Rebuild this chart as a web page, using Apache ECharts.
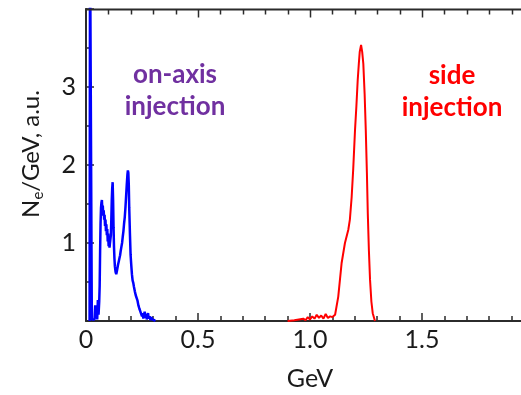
<!DOCTYPE html>
<html>
<head>
<meta charset="utf-8">
<script src="https://cdn.jsdelivr.net/npm/echarts@6/dist/echarts.min.js"></script>
<style>html,body{margin:0;padding:0;background:#fff;}#c{width:521px;height:395px;}</style>
</head>
<body>
<div id="c"></div>
<script>
// On-axis injection spectrum (GeV, Ne/GeV a.u.)
const blueX = [0.016,0.018,0.024,0.026,0.03,0.034,0.038,0.041,0.044,0.047,0.05,0.053,0.056,0.059,0.061,0.063,0.065,0.067,0.069,0.071,0.073,0.075,0.077,0.079,0.081,0.083,0.085,0.087,0.089,0.091,0.093,0.095,0.097,0.099,0.101,0.103,0.105,0.107,0.109,0.111,0.113,0.115,0.117,0.119,0.121,0.123,0.125,0.127,0.129,0.132,0.135,0.138,0.14,0.143,0.146,0.149,0.152,0.155,0.158,0.161,0.164,0.167,0.17,0.173,0.176,0.179,0.182,0.185,0.187,0.189,0.191,0.193,0.196,0.199,0.202,0.205,0.208,0.211,0.214,0.218,0.222,0.226,0.23,0.234,0.238,0.241,0.244,0.247,0.25,0.253,0.256,0.259,0.262,0.265,0.268,0.271,0.274,0.277,0.28,0.284,0.288,0.292,0.296,0.3,0.305,0.31];
const blueY = [0,5,5,0.02,0.01,0.04,0.02,0.2,0.05,0.1,0.02,0.27,0.08,0.25,0.45,0.9,1.25,1.45,1.52,1.55,1.42,1.48,1.35,1.42,1.3,1.36,1.22,1.3,1.15,1.24,1.1,1.18,1.02,1.12,0.96,1.05,0.94,1.0,0.98,1.1,1.3,1.55,1.7,1.78,1.55,1.2,0.95,0.8,0.7,0.63,0.6,0.64,0.66,0.72,0.76,0.8,0.84,0.9,0.95,1.0,1.08,1.15,1.25,1.33,1.45,1.6,1.75,1.88,1.93,1.9,1.75,1.45,1.13,0.85,0.72,0.6,0.52,0.49,0.44,0.38,0.33,0.31,0.26,0.2,0.16,0.14,0.11,0.13,0.06,0.1,0.03,0.08,0.12,0.04,0.09,0.02,0.07,0.1,0.03,0.06,0.01,0.05,0.02,0.04,0.01,0];
// Side injection spectrum
const redX = [0.9,0.93,0.95,0.97,0.98,0.99,1.0,1.01,1.02,1.03,1.04,1.05,1.06,1.07,1.08,1.09,1.1,1.112,1.126,1.141,1.156,1.171,1.178,1.186,1.193,1.201,1.207,1.213,1.218,1.222,1.228,1.233,1.238,1.244,1.249,1.254,1.258,1.263,1.268,1.274,1.28,1.29];
const redY = [0,0.01,0.02,0.03,0.01,0.05,0.02,0.06,0.03,0.08,0.04,0.07,0.03,0.09,0.04,0.06,0.05,0.08,0.31,0.74,1.0,1.17,1.3,1.59,1.95,2.45,2.75,3.09,3.3,3.45,3.54,3.45,3.3,2.9,2.45,1.9,1.38,0.9,0.53,0.25,0.1,0];
const xTicks = [0, 0.5, 1.0, 1.5];
const yTicks = [1, 2, 3];
const X_MAX = 2, Y_MAX = 4;

const FONT = 'Lato';
const AX = '#2b2b2b';
const chart = echarts.init(document.getElementById('c'), null, {renderer: 'canvas'});
const zip = (xs, ys) => xs.map((x, i) => [x, ys[i]]);
const textGraphics = [
  {type: 'text', x: 31, y: 154, rotation: Math.PI / 2, z: 100,
   style: {text: 'N{s|e}/GeV, a.u.', fontFamily: FONT, fontSize: 24, fill: '#1a1a1a',
           align: 'center', verticalAlign: 'middle', lineHeight: 30,
           rich: {s: {fontFamily: FONT, fontSize: 15, fill: '#1a1a1a', verticalAlign: 'bottom'}}}},
  {type: 'text', x: 175, y: 91, z: 100,
   style: {text: 'on-axis\ninjection', fontFamily: FONT, fontSize: 26, fontWeight: 'bold', fill: '#7030A0',
           align: 'center', verticalAlign: 'middle', lineHeight: 32}},
  {type: 'text', x: 452, y: 92, z: 100,
   style: {text: 'side\ninjection', fontFamily: FONT, fontSize: 26, fontWeight: 'bold', fill: '#FF0000',
           align: 'center', verticalAlign: 'middle', lineHeight: 32}}
];
chart.setOption({
  animation: false,
  backgroundColor: '#fff',
  grid: {left: 86, top: 9, right: -13, bottom: 74, containLabel: false, outerBoundsMode: 'none'},
  xAxis: {
    type: 'value', min: 0, max: X_MAX, interval: 0.5, position: 'bottom',
    axisLine: {show: true, onZero: false, lineStyle: {color: AX, width: 2}},
    axisTick: {show: true, inside: true, length: 8, lineStyle: {color: AX, width: 1.5}},
    minorTick: {show: true, splitNumber: 5, length: 5, lineStyle: {color: AX, width: 1.5}},
    splitLine: {show: false},
    axisLabel: {
      margin: 6, fontFamily: FONT, fontSize: 25, color: '#1a1a1a',
      formatter: v => { const t = xTicks.find(k => Math.abs(k - v) < 1e-9); return t === undefined ? '' : (t === 0 ? '0' : t.toFixed(1)); }
    },
    name: 'GeV', nameLocation: 'middle', nameGap: 45,
    nameTextStyle: {fontFamily: FONT, fontSize: 25, color: '#1a1a1a'}
  },
  yAxis: {
    type: 'value', min: 0, max: Y_MAX, interval: 1,
    axisLine: {show: true, onZero: false, lineStyle: {color: AX, width: 2}},
    axisTick: {show: true, inside: true, length: 8, lineStyle: {color: AX, width: 1.5}},
    minorTick: {show: true, splitNumber: 2, length: 5, lineStyle: {color: AX, width: 1.5}},
    splitLine: {show: false},
    axisLabel: {
      margin: 10, fontFamily: FONT, fontSize: 25, color: '#1a1a1a',
      formatter: v => yTicks.indexOf(v) >= 0 ? String(v) : ''
    }
  },
  graphic: textGraphics,
  series: [
    {type: 'line', data: zip(blueX, blueY), showSymbol: false, clip: true,
     lineStyle: {color: '#0000FF', width: 2.5}, itemStyle: {color: '#0000FF'}},
    {type: 'line', data: zip(redX, redY), showSymbol: false, clip: true,
     lineStyle: {color: '#FF0000', width: 2}, itemStyle: {color: '#FF0000'}}
  ]
});
// Top frame with inward ticks, positioned through the chart's own scales
const topY = Math.round(chart.convertToPixel({yAxisIndex: 0}, Y_MAX)) + 0.5;
const x0 = chart.convertToPixel({xAxisIndex: 0}, 0);
const x1 = chart.convertToPixel({xAxisIndex: 0}, X_MAX);
const frame = [{type: 'line', z: 90, shape: {x1: x0 - 1, y1: topY, x2: x1, y2: topY},
                style: {stroke: AX, lineWidth: 2}}];
for (let i = 1; i < 20; i++) {
  const px = Math.round(chart.convertToPixel({xAxisIndex: 0}, i / 10)) + 0.5;
  const len = (i % 5 === 0) ? 8 : 5;
  frame.push({type: 'line', z: 90, shape: {x1: px, y1: topY, x2: px, y2: topY + len},
              style: {stroke: AX, lineWidth: 1.5}});
}
chart.setOption({graphic: textGraphics.concat(frame)}, {replaceMerge: ['graphic']});
</script>
</body>
</html>
